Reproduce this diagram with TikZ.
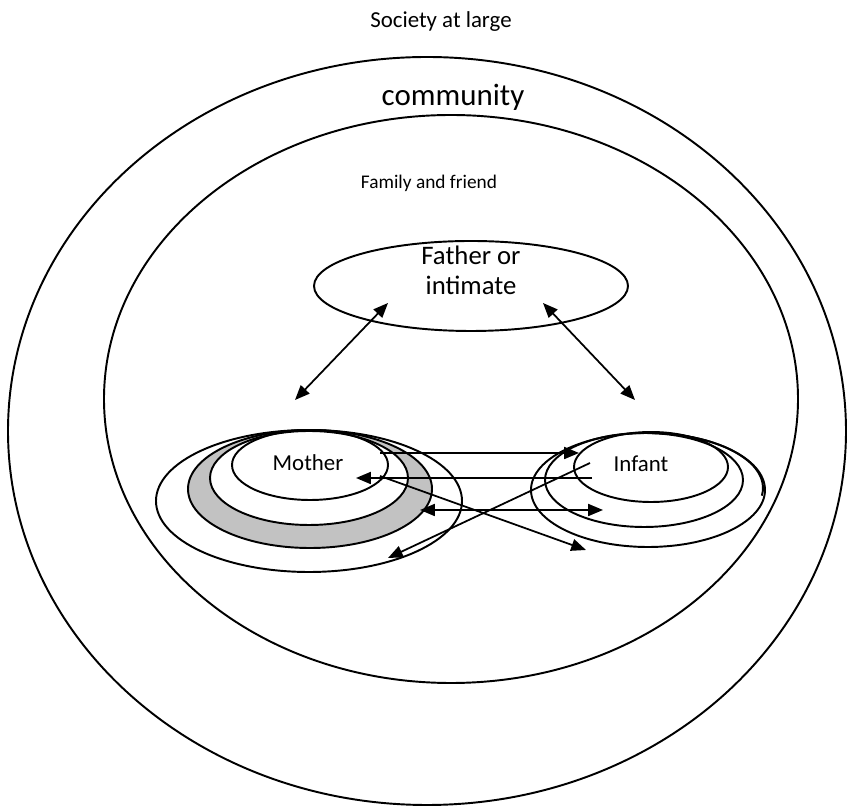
\documentclass[tikz,border=0pt]{standalone}
\usepackage{fontspec}
\setmainfont{Carlito}
\usetikzlibrary{arrows.meta}
\colorlet{RingGray}{black!24}
\tikzset{
  ring/.style={draw=black, line width=0.55pt},
  arr/.style={-{Triangle[length=4.2pt, width=3.4pt]}, line width=0.5pt},
  dblarr/.style={{Triangle[length=4.2pt, width=3.4pt]}-{Triangle[length=4.2pt, width=3.4pt]}, line width=0.5pt},
  lbl/.style={inner sep=1pt, align=center},
}

\begin{document}
\begin{tikzpicture}[x=0.01cm, y=-0.01cm]
  \useasboundingbox (0,0) rectangle (848,807);
  % society and community
  \draw[ring] (427,431) ellipse [x radius=419, y radius=374];
  \draw[ring] (451,399) ellipse [x radius=347, y radius=284];
  \node[lbl, font=\fontsize{6.5}{8}\selectfont] (society) at (441,22) {Society at large};
  \node[lbl, font=\fontsize{8.8}{11}\selectfont] (community) at (453,97) {community};
  \node[lbl, font=\fontsize{5.5}{7}\selectfont] (family) at (429,183) {Family and friend};
  % father
  \draw[ring] (471,286) ellipse [x radius=157, y radius=45];
  \node[lbl, font=\fontsize{7.6}{8.6}\selectfont] (father) at (471,270) {Father or\\intimate};
  % mother rings
  \fill[RingGray, even odd rule] (309,478) ellipse [x radius=99, y radius=47]
    (310,489) ellipse [x radius=122, y radius=59];
  \draw[ring] (310,465) ellipse [x radius=78, y radius=35];
  \draw[ring] (309,478) ellipse [x radius=99, y radius=47];
  \draw[ring] (310,489) ellipse [x radius=122, y radius=59];
  \draw[ring] (309,501) ellipse [x radius=153, y radius=71];
  \node[lbl, font=\fontsize{6.5}{8}\selectfont] (mother) at (308,463) {Mother};
  % infant rings
  \draw[ring] (651,467) ellipse [x radius=77, y radius=35];
  \draw[ring] (644,480) ellipse [x radius=99, y radius=47];
  \draw[ring] (648,490) ellipse [x radius=117, y radius=57];
  \draw[ring] (648,433) arc [start angle=-90, end angle=8, x radius=115, y radius=55];
  \node[lbl, font=\fontsize{6.5}{8}\selectfont] (infant) at (641,464) {Infant};
  % arrow ends
  \coordinate (faL) at (388,303);
  \coordinate (faR) at (543,303);
  \coordinate (moT) at (295,400);
  \coordinate (inT) at (635,400);
  \coordinate (mo1) at (380,453);
  \coordinate (in1) at (579,453);
  \coordinate (in2) at (592,478);
  \coordinate (mo2) at (356,478);
  \coordinate (in3) at (590,463);
  \coordinate (mo3) at (388,558);
  \coordinate (mo4) at (420,510);
  \coordinate (in4) at (603,510);
  \coordinate (mo5) at (380,476);
  \coordinate (in5) at (586,550);
  % arrows
  \draw[dblarr] (faL) -- (moT);
  \draw[dblarr] (faR) -- (inT);
  \draw[arr] (mo1) -- (in1);
  \draw[arr] (in2) -- (mo2);
  \draw[arr] (in3) -- (mo3);
  \draw[dblarr] (mo4) -- (in4);
  \draw[arr] (mo5) -- (in5);
\end{tikzpicture}
\end{document}
